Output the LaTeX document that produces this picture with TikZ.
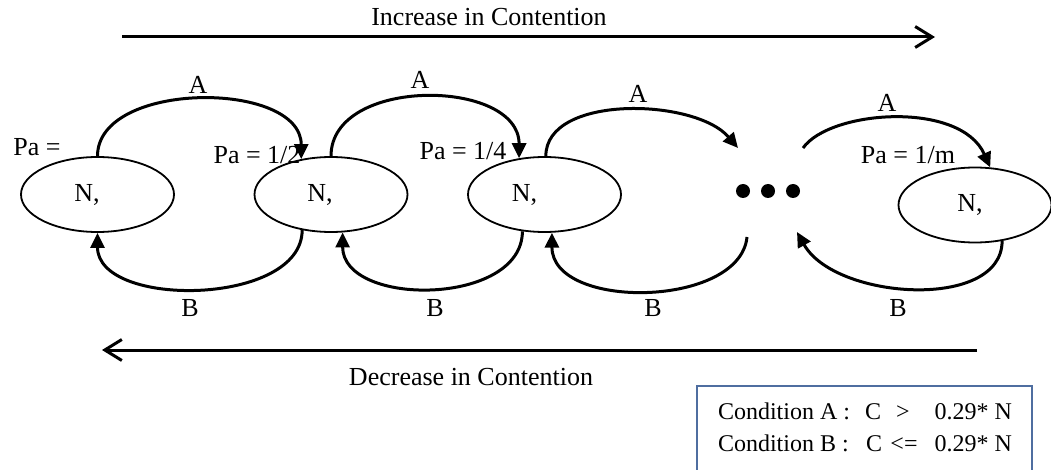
\documentclass[tikz,border=0pt]{standalone}
\usepackage{fontspec}
\setmainfont{Liberation Serif}
\usetikzlibrary{shapes.geometric,arrows.meta}
\definecolor{boxblue}{RGB}{79,110,160}
\begin{document}
\begin{tikzpicture}[x=1pt,y=-1pt,
  state/.style={ellipse,draw,line width=1.8pt,minimum width=153pt,minimum height=75pt,inner sep=0pt,font=\fontsize{26}{30}\selectfont},
  lbl/.style={inner sep=0pt,font=\fontsize{26}{30}\selectfont},
  trans/.style={line width=3pt,-{Triangle[length=15pt,width=14pt]}},
  bigarrow/.style={line width=3pt,-{Straight Barb[length=17pt,width=21pt]}},
  dot/.style={circle,fill,inner sep=0pt,minimum size=14pt}]
\useasboundingbox (0,0) rectangle (1051,470);

% states
\node[state] (n1) at (97.5,194.5) {N,\hspace*{21pt}};
\node[state] (n2) at (331,194.5) {N,\hspace*{22pt}};
\node[state] (n3) at (544.5,194.5) {N,\hspace*{40pt}};
\node[state] (n4) at (975,205) {N,\hspace*{10pt}};

% dots
\node[dot] (d1) at (743,191) {};
\node[dot] (d2) at (768,191) {};
\node[dot] (d3) at (793,191) {};
\coordinate (ain) at (738,148);
\coordinate (aout) at (803,148);
\coordinate (bout) at (747,237);
\coordinate (bin) at (797,232);

% Pa labels
\node[lbl] (p1) at (37,147) {Pa =};
\node[lbl] (p2) at (257,155) {Pa = 1/2};
\node[lbl] (p3) at (463,151) {Pa = 1/4};
\node[lbl] (p4) at (908,155) {Pa = 1/m};

% A transitions
\draw[trans] (n1.north) .. controls +(0,-76) and +(0,-79) .. (n2.130);
\draw[trans] (n2.north) .. controls +(0,-80) and +(0,-80) .. (n3.125);
\draw[trans] (n3.88) .. controls +(0,-62) and +(-43,-50) .. (ain);
\draw[trans] (aout) .. controls +(27,-38) and +(-30,-67) .. (n4.68);

% B transitions
\draw[trans] (n2.231) .. controls +(0,76) and +(0,76) .. (n1.south);
\draw[trans] (n3.239) .. controls +(0,75) and +(0,75) .. (n2.287);
\draw[trans] (bout) .. controls +(-7,71) and +(0,78) .. (n3.281);
\draw[trans] (n4.-53) .. controls +(0,70) and +(38,68) .. (bin);

% edge labels
\node[lbl] (a1) at (198,85) {A};
\node[lbl] (a2) at (420,80) {A};
\node[lbl] (a3) at (638,94) {A};
\node[lbl] (a4) at (887,103) {A};
\node[lbl] (b1) at (190,308) {B};
\node[lbl] (b2) at (435,308) {B};
\node[lbl] (b3) at (653,308) {B};
\node[lbl] (b4) at (898,308) {B};

% contention arrows
\coordinate (ts) at (122,37);
\coordinate (te) at (935,37);
\draw[bigarrow] (ts) -- (te);
\node[lbl] (inc) at (489,17) {Increase in Contention};
\coordinate (bs) at (977,350);
\coordinate (be) at (102,350);
\draw[bigarrow] (bs) -- (be);
\node[lbl] (dec) at (471,377) {Decrease in Contention};

% condition box
\coordinate (c1) at (697,472);
\coordinate (c2) at (697,386);
\coordinate (c3) at (1032,386);
\coordinate (c4) at (1032,472);
\draw[boxblue,line width=1.5pt] (c1) -- (c2) -- (c3) -- (c4);
\node[lbl,align=left,font=\fontsize{24}{32}\selectfont] (cond) at (865,427) {%
\makebox[145pt][l]{Condition A :}\makebox[20pt][c]{C}\makebox[40pt][c]{>}\makebox[89pt][r]{0.29* N}\\
\makebox[145pt][l]{Condition B :}\makebox[22pt][c]{C}\makebox[38pt][c]{<=}\makebox[89pt][r]{0.29* N}};
\end{tikzpicture}
\end{document}
